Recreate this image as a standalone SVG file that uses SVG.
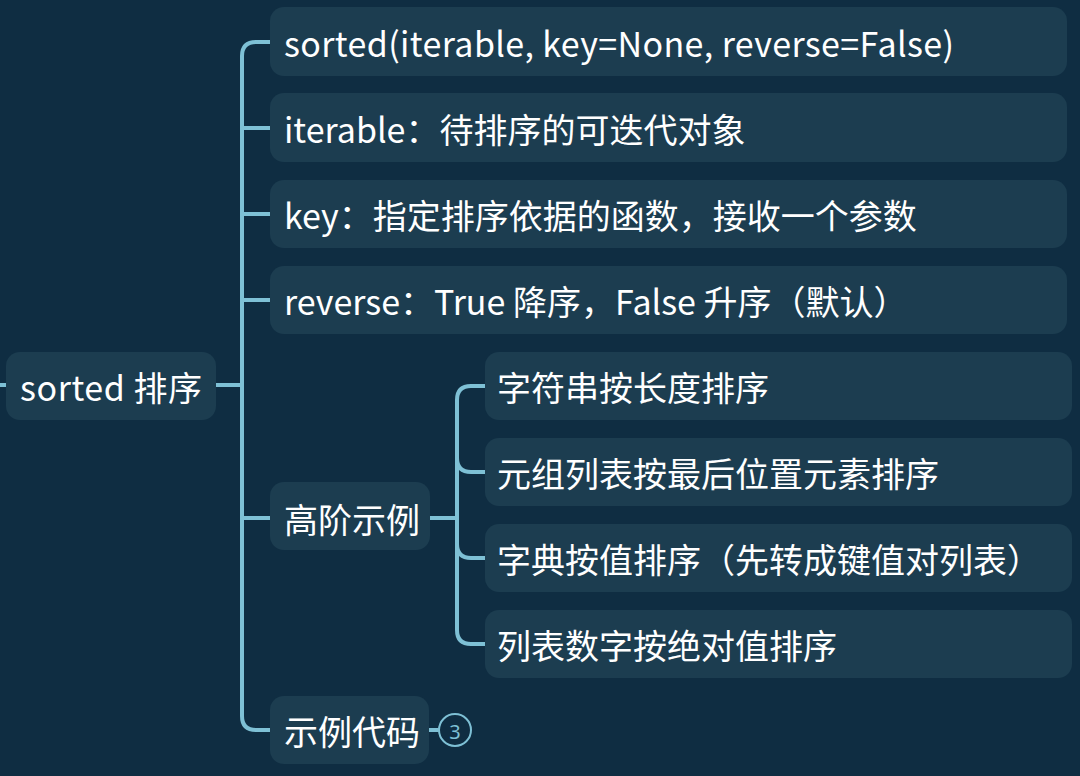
<svg xmlns="http://www.w3.org/2000/svg" width="1080" height="776" viewBox="0 0 1080 776">
<style>
.bg{fill:#0f2d42}
.node{fill:#1c3d50}
.t{font-family:"Noto Sans CJK SC","Noto Sans",sans-serif;font-size:34px;fill:#ffffff;dominant-baseline:central}
.c{fill:none;stroke:#7ec0d5;stroke-width:4;stroke-linecap:round}
</style>
<rect class="bg" width="1080" height="776"/>
<g id="connectors">
<path class="c" d="M-2 385 H6"/>
<path class="c" d="M216 385 H240"/>
<path class="c" d="M270 42 H256 Q242 42 242 56 V716 Q242 730 256 730 H270"/>
<path class="c" d="M242 128 H270 M242 214 H270 M242 300 H270 M242 518 H270"/>
<path class="c" d="M430 518 H456"/>
<path class="c" d="M485 386 H471 Q457 386 457 400 V630 Q457 644 471 644 H485"/>
<path class="c" d="M457 458 Q457 472 471 472 H485"/>
<path class="c" d="M457 544 Q457 558 471 558 H485"/>
<path class="c" d="M429 730 H438"/>
<circle cx="455" cy="730" r="16" fill="none" stroke="#7ec0d5" stroke-width="2"/>
<text x="455" y="731" font-family="Noto Sans, sans-serif" font-size="20" fill="#7ec0d5" text-anchor="middle" dominant-baseline="central">3</text>
</g>
<g id="root"><rect class="node" x="6" y="352" width="210" height="68" rx="14"/><text class="t" x="20" y="386" textLength="182" lengthAdjust="spacing">sorted 排序</text></g>
<g id="n1"><rect class="node" x="270" y="7" width="797" height="69" rx="14"/><text class="t" x="284" y="42" textLength="670" lengthAdjust="spacing">sorted(iterable, key=None, reverse=False)</text></g>
<g id="n2"><rect class="node" x="270" y="93" width="797" height="69" rx="14"/><text class="t" x="284" y="128">iterable：待排序的可迭代对象</text></g>
<g id="n3"><rect class="node" x="270" y="180" width="797" height="68" rx="14"/><text class="t" x="284" y="214">key：指定排序依据的函数，接收一个参数</text></g>
<g id="n4"><rect class="node" x="270" y="266" width="797" height="68" rx="14"/><text class="t" x="284" y="300">reverse：True 降序，False 升序（默认）</text></g>
<g id="n5"><rect class="node" x="270" y="482" width="160" height="68" rx="14"/><text class="t" x="284" y="518">高阶示例</text></g>
<g id="n6"><rect class="node" x="270" y="696" width="159" height="68" rx="14"/><text class="t" x="284" y="730">示例代码</text></g>
<g id="s1"><rect class="node" x="485" y="352" width="587" height="68" rx="14"/><text class="t" x="497" y="386">字符串按长度排序</text></g>
<g id="s2"><rect class="node" x="485" y="438" width="587" height="68" rx="14"/><text class="t" x="497" y="472">元组列表按最后位置元素排序</text></g>
<g id="s3"><rect class="node" x="485" y="524" width="587" height="68" rx="14"/><text class="t" x="497" y="558">字典按值排序（先转成键值对列表）</text></g>
<g id="s4"><rect class="node" x="485" y="610" width="587" height="68" rx="14"/><text class="t" x="497" y="644">列表数字按绝对值排序</text></g>
</svg>
